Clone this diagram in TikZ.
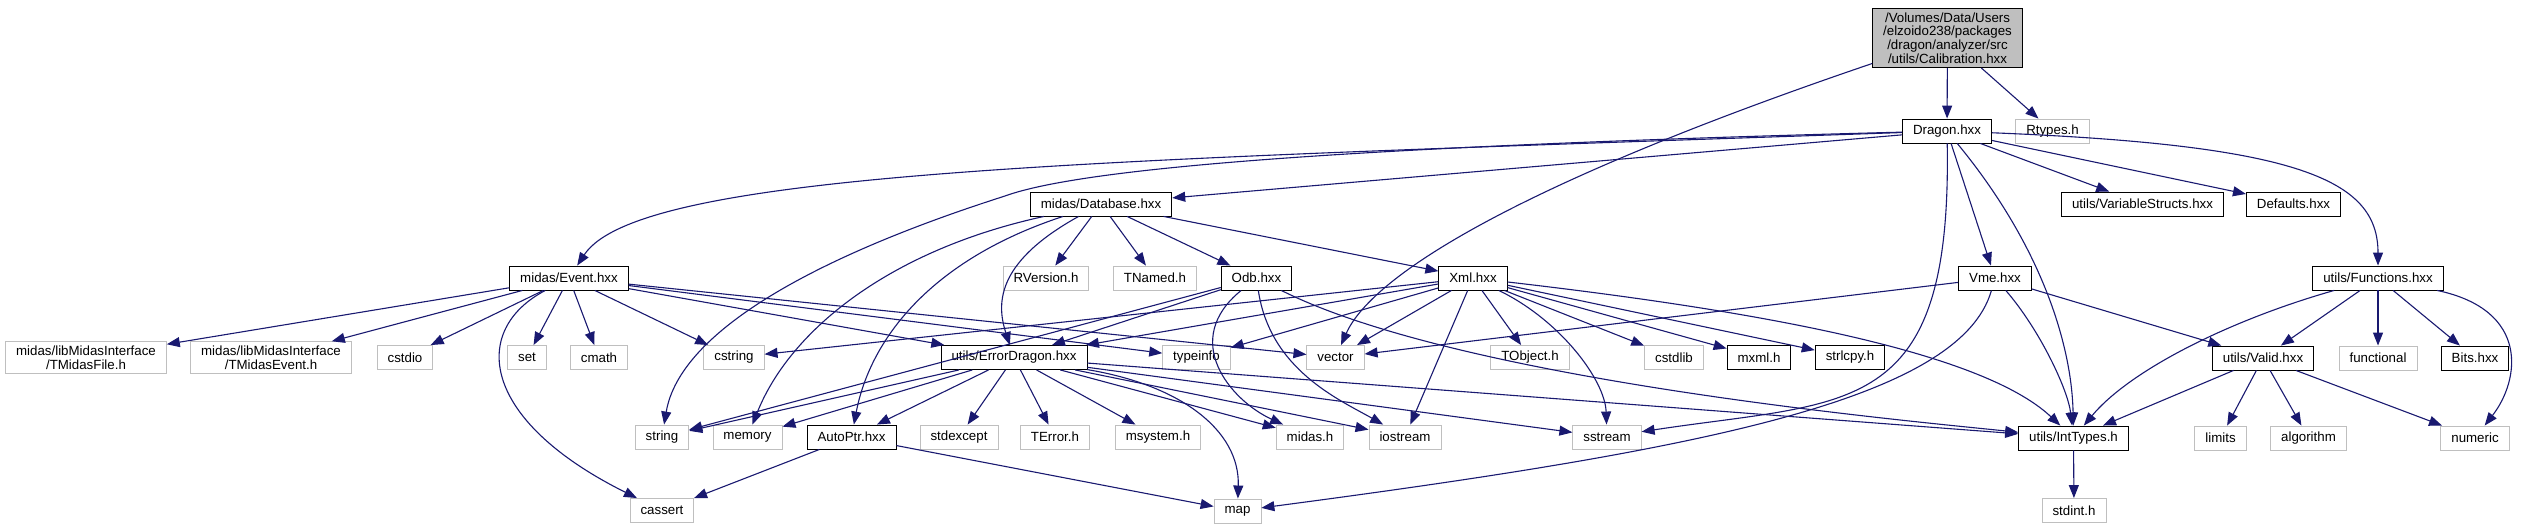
\documentclass[tikz,border=0pt]{standalone}
\usepackage{fontspec}
\setmainfont{Liberation Sans}
\usetikzlibrary{arrows.meta}
\definecolor{edgeblue}{RGB}{25,25,112}
\definecolor{sysgray}{RGB}{191,191,191}

\begin{document}
\begin{tikzpicture}[
		x=1pt, y=-1pt,
		m/.style={draw, line width=0.9pt, fill=white, align=center, inner xsep=10.5pt, inner ysep=4pt, minimum height=24pt, font=\fontsize{13.3}{13.8}\selectfont},
		sys/.style={m, draw=sysgray},
		arr/.style={-{Triangle[length=13pt, width=10pt]}, edgeblue, line width=1.1pt}
		]
		\useasboundingbox (0,0) rectangle (2533,529);
		\node[m, fill=sysgray] (root) at (1947.5,38) {/Volumes/Data/Users\\/elzoido238/packages\\/dragon/analyzer/src\\/utils/Calibration.hxx};
		\node[m] (dragon) at (1947,131) {Dragon.hxx};
		\node[sys] (rtypes) at (2052.5,131) {Rtypes.h};
		\node[m] (database) at (1101,204) {midas/Database.hxx};
		\node[m] (vstructs) at (2142.5,204) {utils/VariableStructs.hxx};
		\node[m] (defaults) at (2293.5,204) {Defaults.hxx};
		\node[m] (event) at (569,278) {midas/Event.hxx};
		\node[sys] (rversion) at (1046,278) {RVersion.h};
		\node[sys] (tnamed) at (1155,278) {TNamed.h};
		\node[m] (odb) at (1256.5,278) {Odb.hxx};
		\node[m] (xml) at (1473,278) {Xml.hxx};
		\node[m] (vme) at (1995,278) {Vme.hxx};
		\node[m] (functions) at (2378,278) {utils/Functions.hxx};
		\node[sys] (tmfile) at (86,357.5) {midas/libMidasInterface\\/TMidasFile.h};
		\node[sys] (tmevent) at (271,357.5) {midas/libMidasInterface\\/TMidasEvent.h};
		\node[sys] (cstdio) at (405,357.5) {cstdio};
		\node[sys] (set) at (527,357.5) {set};
		\node[sys] (cmath) at (599,357.5) {cmath};
		\node[sys] (cstring) at (734,357.5) {cstring};
		\node[m] (errdragon) at (1014,357.5) {utils/ErrorDragon.hxx};
		\node[sys] (typeinfo) at (1196.5,357.5) {typeinfo};
		\node[sys] (vector) at (1335.5,357.5) {vector};
		\node[sys] (tobject) at (1530,357.5) {TObject.h};
		\node[sys] (cstdlib) at (1674,357.5) {cstdlib};
		\node[m] (mxml) at (1759,357.5) {mxml.h};
		\node[m] (strlcpy) at (1850,357.5) {strlcpy.h};
		\node[m] (valid) at (2263,358) {utils/Valid.hxx};
		\node[sys] (functional) at (2378,358) {functional};
		\node[m] (bits) at (2475,358) {Bits.hxx};
		\node[sys] (string) at (662,437) {string};
		\node[sys] (memory) at (747.5,437) {memory};
		\node[m] (autoptr) at (851.5,437) {AutoPtr.hxx};
		\node[sys] (stdexcept) at (959,437) {stdexcept};
		\node[sys] (terror) at (1055,437) {TError.h};
		\node[sys] (msystem) at (1158,437) {msystem.h};
		\node[sys] (midash) at (1310,437) {midas.h};
		\node[sys] (iostream) at (1405,437) {iostream};
		\node[sys] (sstream) at (1607,437) {sstream};
		\node[m] (inttypes) at (2073.5,438) {utils/IntTypes.h};
		\node[sys] (limits) at (2220.5,438) {limits};
		\node[sys] (algorithm) at (2308.5,438) {algorithm};
		\node[sys] (numeric) at (2475,438) {numeric};
		\node[sys] (cassert) at (662,510.5) {cassert};
		\node[sys] (map) at (1237.5,511) {map};
		\node[sys] (stdint) at (2074,510.5) {stdint.h};

		\draw[arr] (root) -- (dragon);
		\draw[arr] (root) -- (rtypes);
		\draw[arr] (root) .. controls (1500,190) and (1370,280) .. (vector);

		\draw[arr] (dragon) .. controls (1100,160) and (640,170) .. (event);
		\draw[arr] (dragon) .. controls (1400,145) and (1090,165) .. (1005,196) .. controls (820,255) and (680,330) .. (string);
		\draw[arr] (dragon) -- (database);
		\draw[arr] (dragon) -- (vme);
		\draw[arr] (dragon) -- (vstructs);
		\draw[arr] (dragon) -- (defaults);
		\draw[arr] (dragon) .. controls (2300,145) and (2378,180) .. (functions);
		\draw[arr] (dragon) .. controls (1952,420) and (1850,400) .. (sstream);
		\draw[arr] (dragon) .. controls (2045,250) and (2072,350) .. (inttypes);

		\draw[arr] (database) -- (rversion);
		\draw[arr] (database) -- (tnamed);
		\draw[arr] (database) -- (odb);
		\draw[arr] (database) -- (xml);
		\draw[arr] (database) .. controls (1000,260) and (995,300) .. (errdragon);
		\draw[arr] (database) .. controls (930,260) and (870,340) .. (autoptr);
		\draw[arr] (database) .. controls (890,250) and (790,330) .. (memory);

		\draw[arr] (event) -- (tmfile);
		\draw[arr] (event) -- (tmevent);
		\draw[arr] (event) -- (cstdio);
		\draw[arr] (event) -- (set);
		\draw[arr] (event) -- (cmath);
		\draw[arr] (event) .. controls (470,330) and (480,420) .. (cassert);
		\draw[arr] (event) -- (cstring);
		\draw[arr] (event) -- (errdragon);
		\draw[arr] (event) -- (typeinfo);
		\draw[arr] (event) -- (vector);

		\draw[arr] (odb) -- (errdragon);
		\draw[arr] (odb) -- (string);
		\draw[arr] (odb) .. controls (1180,340) and (1230,400) .. (midash);
		\draw[arr] (odb) .. controls (1270,370) and (1340,400) .. (iostream);
		\draw[arr] (odb) .. controls (1460,380) and (1900,420) .. (inttypes);

		\draw[arr] (xml) -- (cstring);
		\draw[arr] (xml) -- (errdragon);
		\draw[arr] (xml) -- (typeinfo);
		\draw[arr] (xml) -- (vector);
		\draw[arr] (xml) -- (tobject);
		\draw[arr] (xml) -- (cstdlib);
		\draw[arr] (xml) -- (mxml);
		\draw[arr] (xml) -- (strlcpy);
		\draw[arr] (xml) -- (iostream);
		\draw[arr] (xml) .. controls (1560,320) and (1605,380) .. (sstream);
		\draw[arr] (xml) .. controls (1750,310) and (1980,350) .. (inttypes);

		\draw[arr] (errdragon) -- (string);
		\draw[arr] (errdragon) -- (memory);
		\draw[arr] (errdragon) -- (autoptr);
		\draw[arr] (errdragon) -- (stdexcept);
		\draw[arr] (errdragon) -- (terror);
		\draw[arr] (errdragon) -- (msystem);
		\draw[arr] (errdragon) -- (midash);
		\draw[arr] (errdragon) -- (iostream);
		\draw[arr] (errdragon) -- (sstream);
		\draw[arr] (errdragon) -- (inttypes);
		\draw[arr] (errdragon) .. controls (1180,385) and (1240,430) .. (map);

		\draw[arr] (autoptr) -- (cassert);
		\draw[arr] (autoptr) -- (map);

		\draw[arr] (vme) -- (vector);
		\draw[arr] (vme) .. controls (1960,400) and (1700,450) .. (map);
		\draw[arr] (vme) .. controls (2040,330) and (2068,390) .. (inttypes);
		\draw[arr] (vme) -- (valid);

		\draw[arr] (functions) .. controls (2230,320) and (2130,370) .. (inttypes);
		\draw[arr] (functions) -- (valid);
		\draw[arr] (functions) -- (functional);
		\draw[arr] (functions) -- (bits);
		\draw[arr] (functions) .. controls (2530,310) and (2520,380) .. (numeric);

		\draw[arr] (valid) -- (inttypes);
		\draw[arr] (valid) -- (limits);
		\draw[arr] (valid) -- (algorithm);
		\draw[arr] (valid) -- (numeric);

		\draw[arr] (inttypes) -- (stdint);
	\end{tikzpicture}
\end{document}
